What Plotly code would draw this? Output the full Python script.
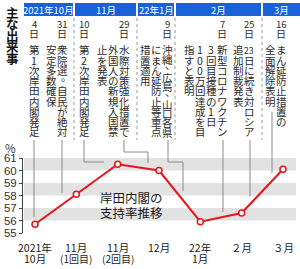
import re
import plotly.graph_objects as go

# ---------------- data ----------------
x_label_top = ["2021年", "11月", "11月", "12月", "22年", "２月", "３月"]
x_label_bottom = ["10月", "(1回目)", "(2回目)", "", "1月", "", ""]
support_rate = [55.7, 58.1, 60.5, 60.0, 55.9, 56.6, 60.1]
y_ticks = [55, 56, 57, 58, 59, 60, 61]
band_ranges = [(56, 57), (58, 59), (60, 61)]

side_title = "主な出来事"
chart_title = ["岸田内閣の", "支持率推移"]
month_headers = ["2021年10月", "11月", "22年1月", "2月", "3月"]
event_days = ["4", "31", "10", "29", "9", "7", "25", "16"]
event_columns = [
    ["第1次岸田内閣発足"],
    ["衆院選。自民が絶対", "安定多数確保"],
    ["第2次岸田内閣発足"],
    ["水際対策強化措置で", "外国人の新規入国禁", "止を発表"],
    ["沖縄、広島、山口各県", "にまん延防止等重点", "措置適用"],
    ["新型コロナワクチン", "3回目接種の1日", "100万回達成を目", "指すと表明"],
    ["[23]日に続き対ロシア", "追加制裁発表"],
    ["まん延防止措置の", "全面解除表明"],
]

# ---------------- layout (pixels) ----------------
W, H = 300, 269
PL, PR, PT, PB = 23, 296, 158, 233          # plot area
FIRST_X, LAST_X = 35, 283                   # centre of first / last category
header_spans = [(24, 73), (75, 136), (138, 174), (176, 261), (263, 300)]
header_y = (3, 16)
separator_x = [74, 137, 175, 262]
event_x = [34, 62, 84, 124, 167, 222, 249, 281]
col_step = 11
day_num_y, day_ri_y = 24, 33
text_top, text_bottom = 50, 132
cell = 10.2
connectors = [
    [(34, 140), (34, 217)],
    [(62, 140), (62, 193)],
    [(84, 140), (84, 162), (104, 162)],
    [(124, 140), (124, 152), (148, 152), (148, 163)],
    [(168, 140), (168, 162), (183, 162), (183, 191)],
    [(223, 140), (223, 212)],
    [(250, 140), (250, 197)],
    [(272, 112), (272, 173)],
]

BLUE = "#1762d8"
RED = "#e8141c"
TEXT = "#2b2b2b"
FONT = "Noto Sans CJK JP"


def px(x):
    return x / W


def py(y):
    return 1 - y / H


step = (LAST_X - FIRST_X) / (len(support_rate) - 1)
x_range = [(PL - FIRST_X) / step, (PR - FIRST_X) / step]
unit = (PB - PT) / (y_ticks[-1] - y_ticks[0])
dot_y = y_ticks[0] - (237 - PB) / unit
idx = list(range(len(support_rate)))

fig = go.Figure()
fig.add_trace(go.Scatter(
    x=idx, y=[dot_y] * len(idx), mode="markers",
    marker=dict(size=3, color="#111"), cliponaxis=False, hoverinfo="skip"))
fig.add_trace(go.Scatter(
    x=idx, y=support_rate, mode="lines+markers",
    line=dict(color=RED, width=2),
    marker=dict(size=6, color="white", line=dict(color=RED, width=1.5)),
    cliponaxis=False))

shapes = []
for a, b in band_ranges:
    shapes.append(dict(type="rect", xref="paper", yref="y", x0=px(PL + 1), x1=px(PR),
                       y0=a, y1=b, fillcolor="#e2e2e2", line=dict(width=0), layer="below"))
for a, b in header_spans:
    shapes.append(dict(type="rect", xref="paper", yref="paper", x0=px(a), x1=px(b),
                       y0=py(header_y[1]), y1=py(header_y[0]), fillcolor=BLUE, line=dict(width=0)))
for sx in separator_x:
    shapes.append(dict(type="line", xref="paper", yref="paper", x0=px(sx), x1=px(sx),
                       y0=py(18), y1=py(140), line=dict(color="#9a9a9a", width=1, dash="dot")))
for pts in connectors:
    d = "M " + " L ".join(f"{px(x):.5f},{py(y):.5f}" for x, y in pts)
    shapes.append(dict(type="path", xref="paper", yref="paper", path=d,
                       line=dict(color="#8a8a8a", width=1)))

ann = []


def add(text, x, y, size, color=TEXT, xref="paper", xanchor="center", bold=False):
    ann.append(dict(text=f"<b>{text}</b>" if bold else text, x=x, y=y, xref=xref, yref="paper",
                    showarrow=False, xanchor=xanchor, yanchor="middle",
                    font=dict(family=FONT, size=size, color=color)))


# side title
for i, ch in enumerate(side_title):
    add(ch, px(12), py(12 + i * 11.6), 12.5, "#111", bold=True)

# month headers
for (a, b), t in zip(header_spans, month_headers):
    add(t, px((a + b) / 2), py(9.8), 9.5, "white")

# day labels + vertical event text
for ex, d, cols in zip(event_x, event_days, event_columns):
    add(d, px(ex), py(day_num_y), 9.5)
    add("日", px(ex), py(day_ri_y), 10)
    for ci, col in enumerate(cols):
        cells = [m.group(1) or m.group(2) for m in re.finditer(r"\[([^\]]+)\]|(.)", col)]
        n = len(cells)
        sp = min(cell, (text_bottom - text_top) / max(n - 1, 1))
        cx = ex - ci * col_step
        for k, c in enumerate(cells):
            cy = text_top + k * sp
            dx, dy = 0, 0
            if c in "、。":
                dx, dy = 4, -4
            add(c, px(cx + dx), py(cy + dy), 8.5 if len(c) > 1 else 10.5)

# chart title
for i, t in enumerate(chart_title):
    add(t, px(98), py(197 + i * 15), 12.5, "#1a1a1a", xanchor="left")

# y unit
add("%", px(10), py(148), 11.5, "#333")

# x labels
for i, (a, b) in enumerate(zip(x_label_top, x_label_bottom)):
    add(a, i, py(247), 10.5, "#222", xref="x")
    if b:
        add(b, i, py(258), 10.5 if "回" not in b else 10, "#222", xref="x")

fig.update_layout(
    width=W, height=H, margin=dict(l=0, r=0, t=0, b=0),
    paper_bgcolor="white", plot_bgcolor="white", showlegend=False,
    template="none",
    xaxis=dict(domain=[px(PL), px(PR)], range=x_range, visible=False, automargin=False),
    yaxis=dict(domain=[py(PB), py(PT)], range=[y_ticks[0], y_ticks[-1]], tickvals=y_ticks,
               showline=True, linecolor="#444", linewidth=1, ticks="outside", ticklen=3,
               tickcolor="#444", showgrid=False, zeroline=False, automargin=False,
               tickfont=dict(family="Liberation Sans", size=11.5, color="#333")),
    shapes=shapes, annotations=ann,
)

fig.write_html("out.html")
